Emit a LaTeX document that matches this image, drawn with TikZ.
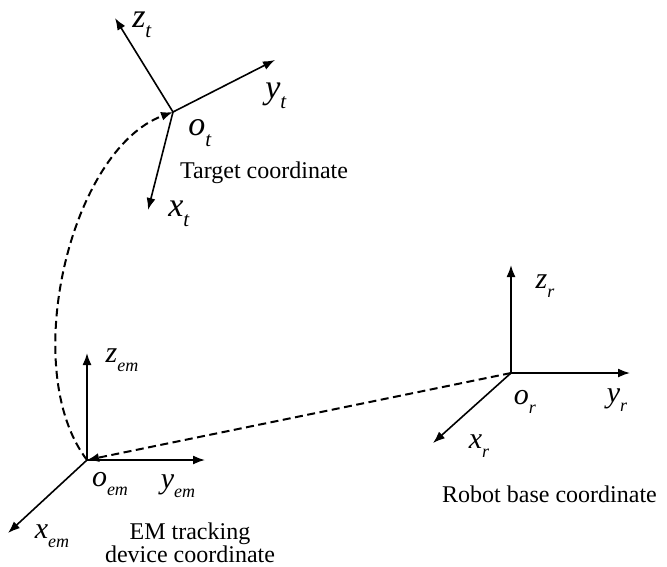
\documentclass[tikz,border=0pt]{standalone}
\usepackage{fontspec}
\setmainfont{Liberation Serif}
\usetikzlibrary{arrows.meta}

% axis label: letter with lowered subscript
\newcommand{\axlab}[3][18]{\textit{#2}\raisebox{-0.3em}{\fontsize{#1}{#1}\selectfont\textit{#3}}}

\begin{document}
\begin{tikzpicture}[
    x=1pt, y=-1pt,
    % Style definitions
    axis/.style={-{Latex[length=12pt, width=9pt]}, line width=1.6pt},
    link/.style={-{Latex[length=12pt, width=9pt]}, line width=2pt, dash pattern=on 8pt off 4.5pt},
    lab/.style={inner sep=0pt, font=\fontsize{30}{30}\selectfont},
    tlab/.style={inner sep=0pt, font=\fontsize{34}{34}\selectfont},
    caption/.style={inner sep=0pt, align=center, font=\fontsize{24}{23}\selectfont},
]
\useasboundingbox (0,0) rectangle (667,566);

% Origins and axis ends
\coordinate (ot) at (173,112);
\coordinate (zt) at (115,18);
\coordinate (yt) at (275,60);
\coordinate (xt) at (148,210);

\coordinate (oem) at (87,460);
\coordinate (zem) at (87,353);
\coordinate (yem) at (205,460);
\coordinate (xem) at (8,533);

\coordinate (or) at (511,373);
\coordinate (zr) at (511,265);
\coordinate (yr) at (630,373);
\coordinate (xr) at (433,443);

% Target frame
\draw[axis] (ot) -- (zt);
\draw[axis] (ot) -- (yt);
\draw[axis] (ot) -- (xt);
\node[tlab] (lzt) at (142,25) {\axlab[21]{z}{t}};
\node[tlab] (lyt) at (276,96) {\axlab[21]{y}{t}};
\node[tlab] (lot) at (200,133) {\axlab[21]{o}{t}};
\node[tlab] (lxt) at (179,214) {\axlab[21]{x}{t}};
\node[caption, anchor=base west] (ct) at (180,178) {Target coordinate};

% EM tracking frame
\draw[axis] (oem) -- (zem);
\draw[axis] (oem) -- (yem);
\draw[axis] (oem) -- (xem);
\node[lab] (lzem) at (122,360) {\axlab{z}{em}};
\node[lab] (loem) at (110,484) {\axlab{o}{em}};
\node[lab] (lyem) at (178,486) {\axlab{y}{em}};
\node[lab] (lxem) at (52,536) {\axlab{x}{em}};
\node[caption, anchor=base] (cem) at (190,562) {EM tracking\\device coordinate};

% Robot base frame
\draw[axis] (or) -- (zr);
\draw[axis] (or) -- (yr);
\draw[axis] (or) -- (xr);
\node[lab] (lzr) at (545,286) {\axlab{z}{r}};
\node[lab] (lor) at (525,402) {\axlab{o}{r}};
\node[lab] (lyr) at (617,400) {\axlab{y}{r}};
\node[lab] (lxr) at (479,446) {\axlab{x}{r}};
\node[caption, anchor=base west] (cr) at (442,502) {Robot base coordinate};

% Transformations
\draw[link] (or) -- (oem);
\draw[link] (oem) .. controls (18,370) and (70,150) .. (ot);

\end{tikzpicture}
\end{document}
